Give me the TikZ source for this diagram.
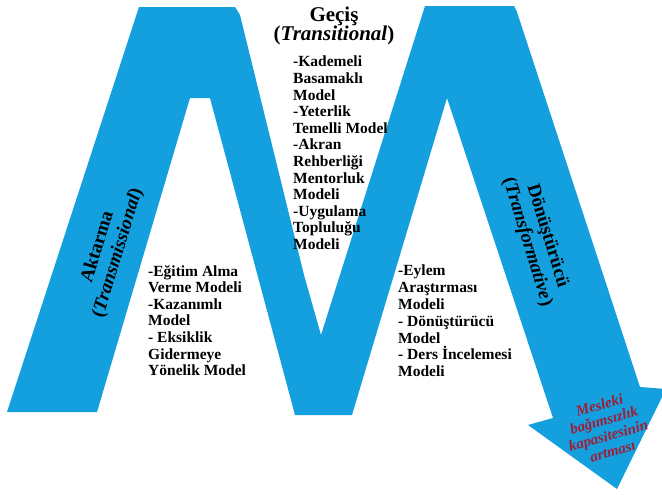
\documentclass[tikz,border=0pt]{standalone}
\usepackage{fontspec}
\setmainfont{Liberation Serif}
\definecolor{mblue}{RGB}{20,160,223}
\definecolor{mred}{RGB}{160,28,52}
\tikzset{
  title/.style={anchor=north, inner sep=0pt, align=center,
    font=\bfseries\fontsize{21}{19.5}\selectfont},
  legtext/.style={inner sep=0pt, align=center,
    font=\bfseries\fontsize{19}{21}\selectfont},
  modellist/.style={anchor=north west, inner sep=0pt, align=left,
    font=\bfseries\fontsize{15.5}{16.6}\selectfont},
  goal/.style={inner sep=0pt, align=center, text=mred, rotate=16,
    font=\bfseries\itshape\fontsize{15}{16}\selectfont}
}
\begin{document}
\begin{tikzpicture}[x=1pt, y=-1pt]
  \useasboundingbox (0,0) rectangle (662,498);
  \clip (0,0) rectangle (662,498);
  \fill [white] (0,0) rectangle (662,498);
  % the M with its arrow
  \fill [mblue] (7,412) -- (139,7) -- (235,7) -- (240,15) -- (304,275)
    -- (321,335) -- (425,6) -- (514,6) -- (517,12) -- (640,387)
    -- (666,389) -- (617,489) -- (528,425) -- (553,418) -- (447,98)
    -- (352,415) -- (295,415) -- (210,98) -- (190,98) -- (97,412) -- cycle;
  \node [title] (gecis) at (334,6.5) {Geçiş\\(\textit{Transitional})};
  \node [legtext, rotate=73] (aktarma) at (108,250)
    {Aktarma\\(\textit{Transmissional})};
  \node [legtext, rotate=-73] (donusturucu) at (537,239)
    {Dönüştürücü\\(\textit{Transformative})};
  \node [modellist] (gecislist) at (293,56)
    {-Kademeli\\Basamaklı\\Model\\-Yeterlik\\Temelli Model\\-Akran\\
     Rehberliği\\Mentorluk\\Modeli\\-Uygulama\\Topluluğu\\Modeli};
  \node [modellist] (aktarmalist) at (148,265)
    {-Eğitim Alma\\Verme Modeli\\-Kazanımlı\\Model\\- Eksiklik\\
     Gidermeye\\Yönelik Model};
  \node [modellist, font=\bfseries\fontsize{15.5}{16.8}\selectfont]
    (donusturuculist) at (398,265)
    {-Eylem\\Araştırması\\Modeli\\- Dönüştürücü\\Model\\
     - Ders İncelemesi\\Modeli};
  \node [goal] (mesleki) at (606,428)
    {Mesleki\\bağımsızlık\\kapasitesinin\\artması};
\end{tikzpicture}
\end{document}
